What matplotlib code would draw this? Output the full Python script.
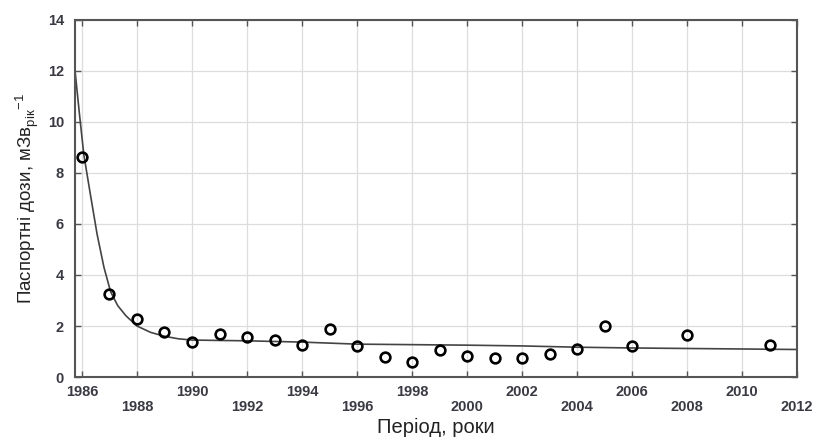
import numpy as np
import matplotlib.pyplot as plt

plt.rcParams['font.family'] = ['Liberation Sans', 'DejaVu Sans']

# виміряні значення (точки)
years = [1986, 1987, 1988, 1989, 1990, 1991, 1992, 1993, 1994, 1995, 1996,
         1997, 1998, 1999, 2000, 2001, 2002, 2003, 2004, 2005, 2006, 2008, 2011]
doses = [8.64, 3.25, 2.26, 1.76, 1.37, 1.69, 1.56, 1.45, 1.25, 1.88, 1.22,
         0.80, 0.58, 1.06, 0.82, 0.75, 0.76, 0.89, 1.10, 2.00, 1.22, 1.65, 1.25]

# апроксимуюча крива
fit_x = [1985.75, 1985.9, 1986.07, 1986.3, 1986.55, 1986.8, 1987.04, 1987.3,
         1987.6, 1988.0, 1988.5, 1989.0, 1989.5, 1990.0, 1992.0, 1994.0,
         1996.0, 1998.0, 2000.0, 2002.0, 2004.0, 2006.0, 2008.0, 2010.0, 2012.0]
fit_y = [12.0, 10.4, 8.7, 7.2, 5.6, 4.3, 3.35, 2.8, 2.4, 2.0, 1.75, 1.6,
         1.5, 1.45, 1.42, 1.37, 1.29, 1.27, 1.25, 1.22, 1.17, 1.14, 1.12,
         1.10, 1.08]

xticks = list(range(1986, 2013, 2))
xlabels = [str(y) if i % 2 == 0 else '\n' + str(y) for i, y in enumerate(xticks)]

fig = plt.figure(figsize=(8.16, 4.41), dpi=100)
ax = fig.add_axes([0.092, 0.145, 0.885, 0.81])

ax.plot(fit_x, fit_y, color='#444444', lw=1.2, zorder=2)
ax.plot(years, doses, 'o', mfc='none', mec='black', mew=1.9, ms=7, zorder=3)

ax.set_xlim(1985.75, 2012)
ax.set_ylim(0, 14)
ax.set_xticks(xticks)
ax.set_xticklabels(xlabels, linespacing=1.05, fontweight='bold')
ax.set_yticks(range(0, 15, 2))
ax.set_yticklabels([str(v) for v in range(0, 15, 2)], fontweight='bold')
ax.grid(True, color='#dddddd', lw=0.9)
ax.set_axisbelow(True)

ax.tick_params(direction='in', top=True, right=True, length=4, width=1,
               colors='#555555', labelcolor='#3a3a44', labelsize=10.5)
ax.tick_params(axis='y', pad=8)
ax.tick_params(axis='x', pad=6)
for s in ax.spines.values():
    s.set_color('#555555')
    s.set_linewidth(1.5)

ax.set_xlabel('Період, роки', fontsize=14.5, color='#222222', labelpad=3)
ax.set_ylabel(r'Паспортні дози, мЗв$_{\mathregular{рік}}$$^{\mathregular{-1}}$',
              fontsize=13.5, color='#222222', labelpad=5)

fig.savefig('out.png', dpi=100)
